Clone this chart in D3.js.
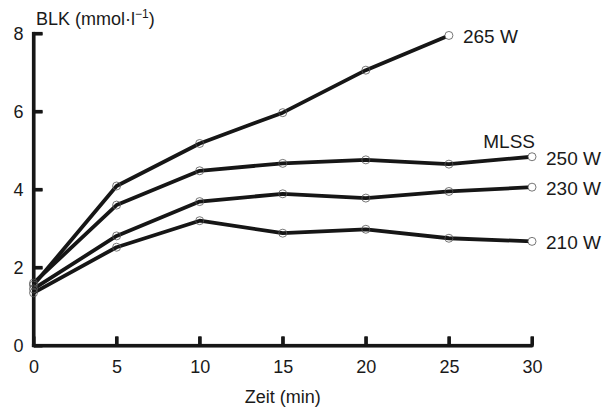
<!DOCTYPE html>
<html>
<head>
<meta charset="utf-8">
<script src="https://cdn.jsdelivr.net/npm/d3@7"></script>
<style>
  body { margin: 0; background: #fff; }
  svg text { font-family: "Liberation Sans", Arial, sans-serif; fill: #1a1a1a; }
</style>
</head>
<body>
<svg id="svg" width="612" height="411"></svg>
<script>
// Zeitpunkte (min)
const zeiten = [0, 5, 10, 15, 20, 25, 30];

// BLK-Werte je Leistungsstufe
const w265 = [1.55, 4.09, 5.18, 5.97, 7.06, 7.95];
const w250 = [1.6, 3.6, 4.48, 4.67, 4.76, 4.65, 4.84];
const w230 = [1.45, 2.81, 3.69, 3.89, 3.78, 3.95, 4.06];
const w210 = [1.35, 2.52, 3.2, 2.88, 2.98, 2.75, 2.67];

const serien = [
  { name: "265 W", werte: w265 },
  { name: "250 W", werte: w250 },
  { name: "230 W", werte: w230 },
  { name: "210 W", werte: w210 }
];

const xTicks = [0, 5, 10, 15, 20, 25, 30];
const yTicks = [0, 2, 4, 6, 8];

const svg = d3.select("#svg");
const margin = { top: 33.5, right: 80, bottom: 65.5, left: 33.5 };
const width = +svg.attr("width");
const height = +svg.attr("height");
const farbe = "#161616";

const x = d3.scaleLinear()
  .domain([0, 30])
  .range([margin.left, width - margin.right]);

const y = d3.scaleLinear()
  .domain([0, 8])
  .range([height - margin.bottom, margin.top]);

// Achsen (Beschriftung), Ticks nach innen
const xAxis = g => g
  .attr("transform", `translate(0,${y(0)})`)
  .call(d3.axisTop(x).tickValues(xTicks).tickSizeInner(9).tickSizeOuter(0).tickPadding(-36))
  .call(g => g.selectAll(".domain, .tick line").attr("stroke", farbe).attr("stroke-width", 3))
  .call(g => g.selectAll(".tick text").attr("font-size", 18).attr("fill", farbe));

const yAxis = g => g
  .attr("transform", `translate(${x(0)},0)`)
  .call(d3.axisRight(y).tickValues(yTicks).tickSizeInner(9).tickSizeOuter(0).tickPadding(-19))
  .call(g => g.selectAll(".domain, .tick line").attr("stroke", farbe).attr("stroke-width", 3))
  .call(g => g.selectAll(".tick text").attr("font-size", 18).attr("text-anchor", "end").attr("fill", farbe));

svg.append("g").call(xAxis);
svg.append("g").call(yAxis);

// Achsenlinien und Ticks als gefüllte Flächen
const d = 1.6;
svg.append("rect")
  .attr("x", x(0) - d).attr("y", y(0) - d)
  .attr("width", x(30) - x(0) + 2 * d).attr("height", 2 * d)
  .attr("fill", farbe);
svg.append("rect")
  .attr("x", x(0) - d).attr("y", y(8) - d)
  .attr("width", 2 * d).attr("height", y(0) - y(8) + 2 * d)
  .attr("fill", farbe);
svg.append("g").selectAll("rect")
  .data(xTicks.slice(1))
  .enter().append("rect")
  .attr("x", v => x(v) - d).attr("y", y(0) - 9)
  .attr("width", 2 * d).attr("height", 9)
  .attr("fill", farbe);
svg.append("g").selectAll("rect")
  .data(yTicks.slice(1))
  .enter().append("rect")
  .attr("x", x(0)).attr("y", v => y(v) - d)
  .attr("width", 9).attr("height", 2 * d)
  .attr("fill", farbe);

// Kurven
const kurve = d3.line()
  .x((v, i) => x(zeiten[i]))
  .y(v => y(v));

svg.append("g").selectAll("path")
  .data(serien)
  .enter().append("path")
  .attr("fill", "none")
  .attr("stroke", farbe)
  .attr("stroke-width", 3.8)
  .attr("stroke-linejoin", "round")
  .attr("d", s => kurve(s.werte));

// Messpunkte
serien.forEach(s => {
  svg.append("g").selectAll("circle")
    .data(s.werte)
    .enter().append("circle")
    .attr("cx", (v, i) => x(zeiten[i]))
    .attr("cy", v => y(v))
    .attr("r", 4)
    .attr("fill", (v, i) => i === s.werte.length - 1 ? "#fff" : "none")
    .attr("stroke", "#555")
    .attr("stroke-width", 0.8);
});

// Beschriftung der Kurven
serien.forEach(s => {
  const n = s.werte.length - 1;
  svg.append("text")
    .attr("x", x(zeiten[n]) + 14)
    .attr("y", y(s.werte[n]) + 8)
    .attr("font-size", 19)
    .text(s.name);
});

svg.append("text")
  .attr("x", x(30) + 3)
  .attr("y", y(w250[6]) - 9)
  .attr("text-anchor", "end")
  .attr("font-size", 19)
  .text("MLSS");

// Achsentitel
svg.append("text")
  .attr("x", x(15))
  .attr("y", 403)
  .attr("text-anchor", "middle")
  .attr("font-size", 18)
  .text("Zeit (min)");

const yTitel = svg.append("text")
  .attr("x", 36)
  .attr("y", 25)
  .attr("font-size", 18);
yTitel.append("tspan").text("BLK (mmol·l");
yTitel.append("tspan").attr("dy", -7).attr("font-size", 12).text("−1");
yTitel.append("tspan").attr("dy", 7).text(")");
</script>
</body>
</html>
